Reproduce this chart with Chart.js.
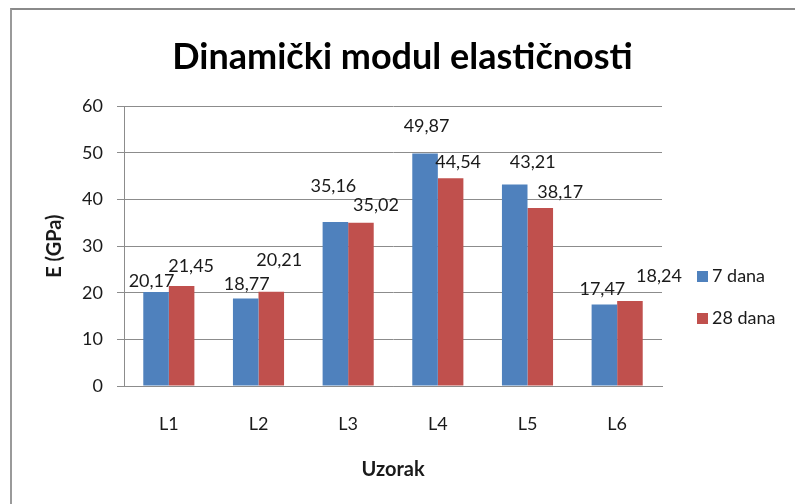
<!DOCTYPE html>
<html>
<head>
<meta charset="utf-8">
<script src="https://cdn.jsdelivr.net/npm/chart.js@4.4.1/dist/chart.umd.min.js"></script>
<style>
  html, body { margin: 0; padding: 0; background: #fff; overflow: hidden; }
  #wrap { position: relative; width: 795px; height: 504px; overflow: hidden; }
  #frame {
    position: absolute; left: 10px; top: 8px; width: 800px; height: 520px;
    border-left: 2px solid #9a9a9a; border-top: 2px solid #8a8a8a;
  }
  canvas { position: absolute; left: 0; top: 0; }
</style>
</head>
<body>
<div id="wrap">
  <div id="frame"></div>
  <canvas id="chart" width="795" height="504"></canvas>
</div>
<script>
const categories = ["L1", "L2", "L3", "L4", "L5", "L6"];
const seriesNames = ["7 dana", "28 dana"];
const values7 = [20.17, 18.77, 35.16, 49.87, 43.21, 17.47];
const values28 = [21.45, 20.21, 35.02, 44.54, 38.17, 18.24];

const Y_MIN = 0;
const Y_MAX = 60;
const Y_STEP = 10;

const BLUE = "#4f81bd";
const RED = "#c0504d";
const FONT = "Lato";
const TEXT = "#1a1a1a";

// label nudges (dx from bar centre, baseline height above bar top)
const labelShift = [
  [[-4.5, 5], [1, 8.5], [-2, 30], [1.5, 21], [18, 16], [-2, 9.5]],
  [[9.5, 14], [8, 25.7], [15, 11.6], [7.5, 10], [20, 10], [29, 19]],
];

function formatValue(v) {
  return v.toFixed(2).replace(".", ",");
}

const barLabels = {
  id: "barLabels",
  afterDatasetsDraw(chart) {
    const ctx = chart.ctx;
    ctx.save();
    ctx.font = "18px " + FONT;
    ctx.fillStyle = TEXT;
    ctx.textAlign = "center";
    ctx.textBaseline = "alphabetic";
    chart.data.datasets.forEach((ds, di) => {
      const meta = chart.getDatasetMeta(di);
      meta.data.forEach((bar, i) => {
        const shift = labelShift[di][i];
        ctx.fillText(formatValue(ds.data[i]), bar.x + shift[0], bar.y - shift[1]);
      });
    });
    ctx.restore();
  },
};

const sideLegend = {
  id: "sideLegend",
  afterDraw(chart) {
    const ctx = chart.ctx;
    ctx.save();
    ctx.font = "18px " + FONT;
    ctx.textBaseline = "middle";
    ctx.textAlign = "left";
    chart.data.datasets.forEach((ds, i) => {
      const cy = 276 + i * 42;
      ctx.fillStyle = ds.backgroundColor;
      ctx.fillRect(697, cy - 5, 11, 11);
      ctx.fillStyle = TEXT;
      ctx.fillText(ds.label, 712, cy);
    });
    ctx.restore();
  },
};

new Chart(document.getElementById("chart").getContext("2d"), {
  type: "bar",
  data: {
    labels: categories,
    datasets: [
      { label: seriesNames[0], data: values7, backgroundColor: BLUE },
      { label: seriesNames[1], data: values28, backgroundColor: RED },
    ],
  },
  options: {
    responsive: false,
    animation: false,
    devicePixelRatio: 1,
    categoryPercentage: 0.57,
    barPercentage: 1.0,
    layout: { padding: { left: 10, right: 0, top: 0, bottom: 0 } },
    plugins: {
      legend: { display: false },
      tooltip: { enabled: false },
      title: {
        display: true,
        text: "Dinamički modul elastičnosti",
        color: "#000",
        font: { family: FONT, size: 36, weight: "bold" },
        padding: { top: 36, bottom: 27 },
      },
    },
    scales: {
      x: {
        grid: { display: false, drawTicks: false },
        border: { display: true, color: "#8c8c8c", width: 1 },
        ticks: { color: TEXT, font: { family: FONT, size: 18 }, padding: 27 },
        title: {
          display: true,
          text: "Uzorak",
          color: TEXT,
          font: { family: FONT, size: 20, weight: "bold" },
          padding: { top: 22, bottom: 22 },
        },
        afterFit(scale) { scale.height = 118; },
      },
      y: {
        min: Y_MIN,
        max: Y_MAX,
        ticks: {
          stepSize: Y_STEP,
          color: TEXT,
          font: { family: FONT, size: 18 },
          padding: 14,
        },
        grid: { color: "#8c8c8c", lineWidth: 1, tickLength: 7 },
        border: { display: true, color: "#8c8c8c", width: 1 },
        title: {
          display: true,
          text: "E (GPa)",
          color: TEXT,
          font: { family: FONT, size: 20, weight: "bold" },
          padding: { top: 33, bottom: 33 },
        },
        afterFit(scale) { scale.width = 114; },
      },
      // keeps room on the right for the legend
      side: {
        type: "linear",
        position: "right",
        display: true,
        grid: { display: false, drawTicks: false },
        border: { display: false },
        ticks: { display: false },
        afterFit(scale) { scale.width = 133; },
      },
    },
  },
  plugins: [barLabels, sideLegend],
});
</script>
</body>
</html>
